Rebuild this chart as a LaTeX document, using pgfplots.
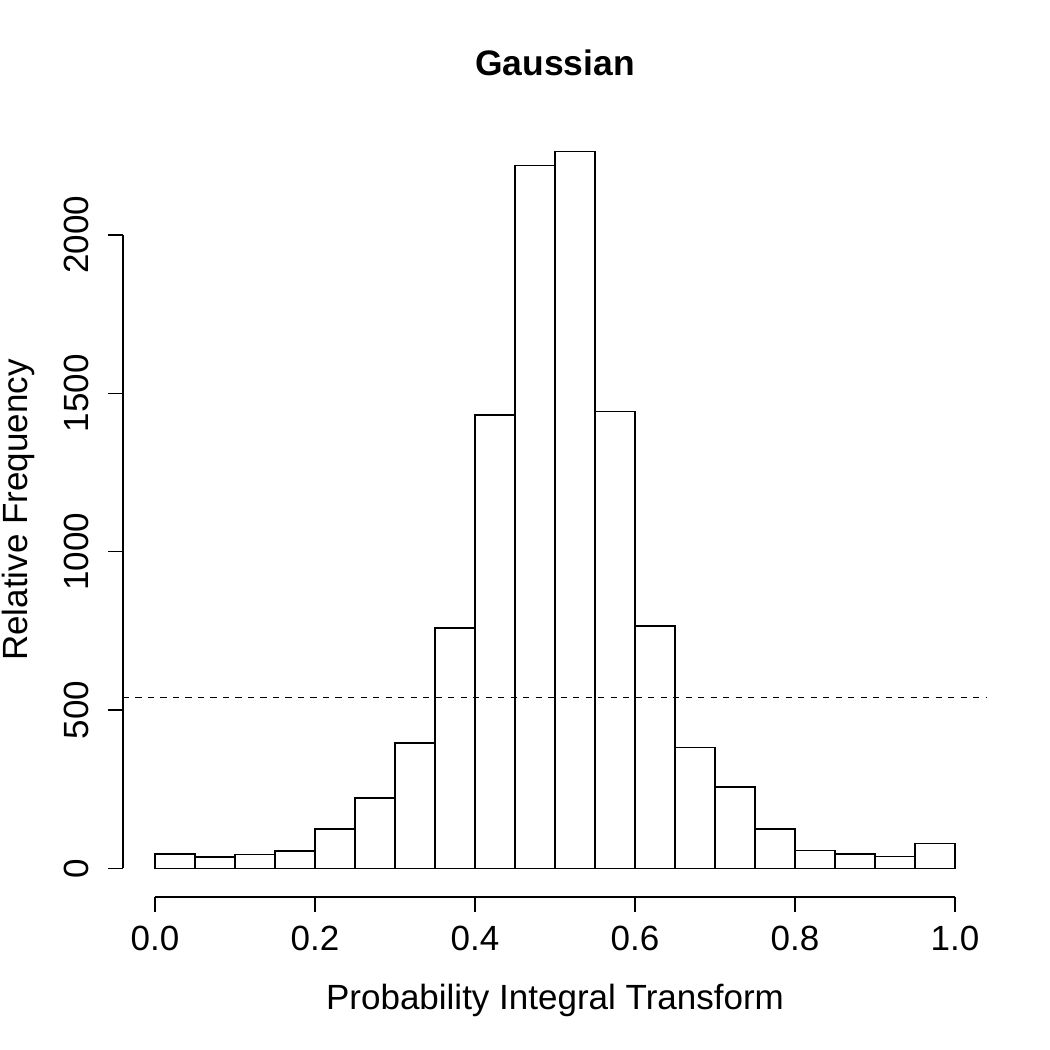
\documentclass[border=0pt]{standalone}
\usepackage{fontspec}
\setmainfont{Liberation Sans}
\usepackage{pgfplots}
\pgfplotsset{compat=1.18}
\begin{document}
\begin{tikzpicture}
\useasboundingbox (0,0) rectangle (504pt,504pt);
\begin{axis}[
  at={(59.04pt,73.44pt)}, anchor=south west,
  width=414.72pt, height=371.52pt, scale only axis,
  xmin=-0.04, xmax=1.04, ymin=-90.52, ymax=2353.5,
  axis x line*=bottom, axis y line*=left,
  axis line style={draw=none},
  tick align=outside, major tick length=7.2pt,
  tick style={black, line width=0.75pt},
  xtick={0,0.2,0.4,0.6,0.8,1}, xticklabels={0.0,0.2,0.4,0.6,0.8,1.0},
  ytick={0,500,1000,1500,2000}, yticklabels={0,500,1000,1500,2000},
  scaled ticks=false,
  tick label style={font=\fontsize{16.8}{20}\selectfont},
  xticklabel style={yshift=-3pt},
  yticklabel style={xshift=-5.5pt, rotate=90, anchor=south},
  title={Gaussian},
  every axis title/.style={at={(axis description cs:0.5,1)}, anchor=base, yshift=23pt, inner sep=0pt, font=\bfseries\fontsize{17}{20}\selectfont},
  xlabel={Probability Integral Transform},
  ylabel={Relative Frequency},
  every axis x label/.style={at={(axis description cs:0.5,-0.145)}, anchor=base, inner sep=0pt, font=\fontsize{16.8}{20}\selectfont},
  every axis y label/.style={at={(axis description cs:-0.11,0.5)}, anchor=base, rotate=90, inner sep=0pt, font=\fontsize{16.8}{20}\selectfont},
  clip=false,
]
\addplot[ybar interval, fill=white, draw=black, line width=0.75pt] coordinates {
(0.00,45) (0.05,36) (0.10,43) (0.15,55) (0.20,124) (0.25,222) (0.30,396) (0.35,759)
(0.40,1431) (0.45,2219) (0.50,2263) (0.55,1442) (0.60,765) (0.65,382) (0.70,256)
(0.75,125) (0.80,57) (0.85,45) (0.90,38) (0.95,78) (1.00,78)};
\addplot[black, line width=0.75pt, dash pattern=on 3pt off 3pt] coordinates {(-0.04,539) (1.04,539)};
\draw[line width=0.75pt] (axis cs:0,-90.52) -- (axis cs:1,-90.52);
\draw[line width=0.75pt] (axis cs:-0.04,0) -- (axis cs:-0.04,2000);
\end{axis}
\end{tikzpicture}
\end{document}
